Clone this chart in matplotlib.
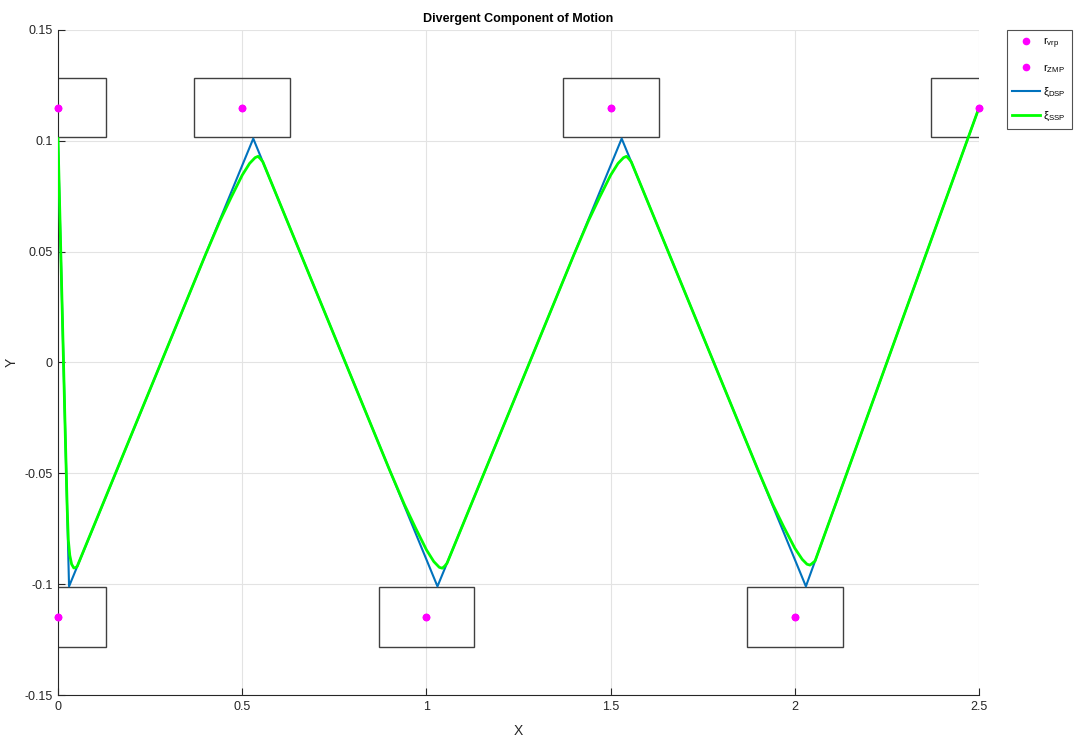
import numpy as np
import matplotlib
matplotlib.use("Agg")
import matplotlib.pyplot as plt
from matplotlib.patches import Rectangle

plt.rcParams['font.family'] = ['Liberation Sans', 'DejaVu Sans']
plt.rcParams['mathtext.fontset'] = 'custom'
plt.rcParams['mathtext.rm'] = 'Liberation Sans'
plt.rcParams['mathtext.it'] = 'Liberation Sans:italic'

# footstep / reference points
step_x = [0.0, 0.0, 0.5, 1.0, 1.5, 2.0, 2.5]
step_y = [0.115, -0.115, 0.115, -0.115, 0.115, -0.115, 0.115]
foot_len = 0.26
foot_wid = 0.027

# DCM (double support) corner points
dsp_x = [0.0, 0.030, 0.530, 1.030, 1.530, 2.030, 2.5]
dsp_y = [0.100, -0.101, 0.101, -0.101, 0.101, -0.101, 0.115]

# DCM (single support)
ssp_x = [0.0, 0.020, 0.025, 0.028, 0.032, 0.037, 0.043, 0.048, 0.052,
         0.400, 0.440, 0.470, 0.500, 0.520, 0.535, 0.543, 0.550, 0.556,
         0.900, 0.940, 0.970, 1.000, 1.020, 1.035, 1.043, 1.050, 1.056,
         1.400, 1.440, 1.470, 1.500, 1.520, 1.535, 1.543, 1.550, 1.556,
         1.900, 1.940, 1.970, 2.000, 2.020, 2.033, 2.041, 2.048, 2.055,
         2.5]
ssp_y = [0.101, -0.034, -0.066, -0.080, -0.087, -0.091, -0.0927, -0.0925, -0.0920,
         0.0485, 0.0640, 0.0745, 0.0845, 0.0898, 0.0924, 0.0930, 0.0918, 0.0905,
         -0.0485, -0.0640, -0.0745, -0.0845, -0.0898, -0.0924, -0.0928, -0.0918, -0.0905,
         0.0485, 0.0640, 0.0745, 0.0845, 0.0898, 0.0924, 0.0930, 0.0918, 0.0905,
         -0.0485, -0.0640, -0.0742, -0.0838, -0.0888, -0.0910, -0.0914, -0.0905, -0.0895,
         0.115]

fig = plt.figure(figsize=(10.74, 7.40), dpi=100)
ax = fig.add_axes([0.054, 0.0608, 0.8576, 0.8987])

for x, y in zip(step_x, step_y):
    r = Rectangle((x - foot_len / 2, y - foot_wid / 2), foot_len, foot_wid,
                  fill=False, edgecolor='#404040', linewidth=1.0, zorder=2)
    ax.add_patch(r)

ax.plot(step_x, step_y, 'o', color='#ff00ff', markersize=4.5, label=r'r$_{\mathrm{vrp}}$',
        zorder=4, clip_on=False)
ax.plot(step_x, step_y, 'o', color='#ff00ff', markersize=4.5, label=r'r$_{\mathrm{ZMP}}$',
        zorder=4, clip_on=False)
ax.plot(dsp_x, dsp_y, color='#0072bd', linewidth=1.5, label=r'ξ$_{\mathrm{DSP}}$', zorder=3)
ax.plot(ssp_x, ssp_y, color='#00ff00', linewidth=2.0, label=r'ξ$_{\mathrm{SSP}}$', zorder=3)

ax.set_xlim(0, 2.5)
ax.set_ylim(-0.15, 0.15)
ax.set_xticks([0, 0.5, 1, 1.5, 2, 2.5])
ax.set_xticklabels(['0', '0.5', '1', '1.5', '2', '2.5'])
ax.set_yticks([-0.15, -0.1, -0.05, 0, 0.05, 0.1, 0.15])
ax.set_yticklabels(['-0.15', '-0.1', '-0.05', '0', '0.05', '0.1', '0.15'])
ax.tick_params(direction='in', length=5, labelsize=9, colors='#262626', pad=4)
ax.grid(True, color='#e3e3e3', linewidth=0.8)
ax.set_axisbelow(True)
for s in ['top', 'right']:
    ax.spines[s].set_visible(False)
ax.spines['left'].set_color('#262626')
ax.spines['bottom'].set_color('#262626')

ax.set_title('Divergent Component of Motion', fontsize=9, fontweight='bold', pad=6)
ax.set_xlabel('X', fontsize=10, color='#262626', labelpad=8)
ax.set_ylabel('Y', fontsize=10, color='#262626')
ax.yaxis.set_label_coords(-0.043, 0.5)

leg = ax.legend(loc='upper left', bbox_to_anchor=(1.03, 1.0), fontsize=8,
                frameon=True, fancybox=False, edgecolor='#262626',
                handlelength=2.5, handletextpad=0.3, borderpad=0.5,
                borderaxespad=0, labelspacing=1.0)
leg.get_frame().set_linewidth(0.8)

plt.savefig('out.png', dpi=100)
